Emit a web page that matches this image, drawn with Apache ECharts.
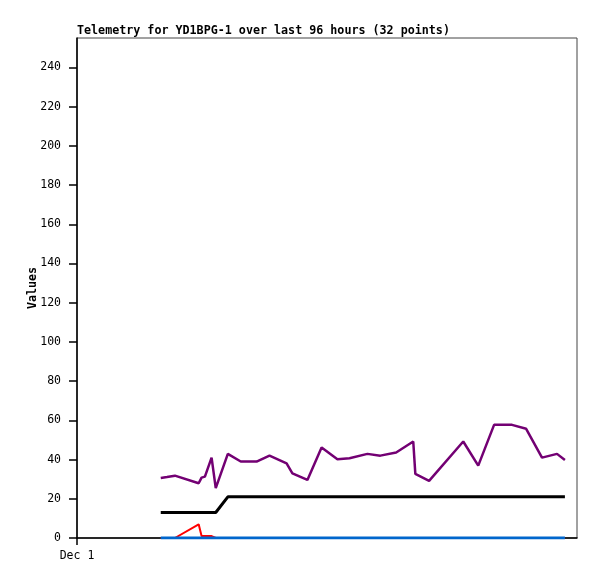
<!DOCTYPE html>
<html>
<head>
<meta charset="utf-8">
<script src="https://cdn.jsdelivr.net/npm/echarts@6/dist/echarts.min.js"></script>
<style>html,body{margin:0;padding:0;background:#fff}#c{width:597px;height:579px}</style>
</head>
<body>
<div id="c"></div>
<script>
// hours since Dec 1 00:00
const hours = [20.1,21.6,23.5,29.2,29.9,30.7,32.3,33.3,36.2,39.3,43.1,46.2,50.3,51.7,55.3,58.7,62.5,65.4,69.7,72.8,76.6,80.7,81.2,84.5,92.7,96.3,100.1,104.4,107.8,111.6,115.2,117.1];
const purpleVals = [30.6,31.1,31.8,27.9,30.8,31.3,41.0,25.4,42.9,39.0,39.0,42.0,38.1,33.0,29.6,46.1,40.2,40.7,42.9,42.0,43.6,49.2,32.7,29.1,49.2,36.9,57.7,57.7,55.7,41.0,42.9,39.8];
const blackVals = [13,13,13,13,13,13,13,13,21,21,21,21,21,21,21,21,21,21,21,21,21,21,21,21,21,21,21,21,21,21,21,21];
const redVals = [0,0,0,7,1,1,1,0,0,0,0,0,0,0,0,0,0,0,0,0,0,0,0,0,0,0,0,0,0,0,0,0];
const blueVals = [0,0,0,0,0,0,0,0,0,0,0,0,0,0,0,0,0,0,0,0,0,0,0,0,0,0,0,0,0,0,0,0];
const yTicks = [0,20,40,60,80,100,120,140,160,180,200,220,240];
const xTickLabels = ['Dec 1'];
const titleText = 'Telemetry for YD1BPG-1 over last 96 hours (32 points)';

const pairs = vals => hours.map((h,i)=>[h, vals[i]]);
const mono = 'DejaVu Sans Mono, Liberation Mono, monospace';
const chart = echarts.init(document.getElementById('c'), null, {renderer:'canvas'});
const lineS = (name, vals, color, w) => ({
  name, type:'line', data: pairs(vals), symbol:'none', animation:false,
  lineStyle:{color, width:w}, itemStyle:{color}
});
chart.setOption({
  animation:false,
  title:{text:titleText, left:77, top:25, padding:0,
    textStyle:{fontFamily:mono, fontSize:11.7, fontWeight:'bold', color:'#000'}},
  grid:{left:77, top:38, right:20, bottom:41, show:true, borderColor:'#444', borderWidth:1, backgroundColor:'transparent'},
  xAxis:{type:'value', min:0, max:120,
    axisLine:{show:true, onZero:false, lineStyle:{color:'#000', width:1.5}},
    axisTick:{show:true, length:7, customValues:[0], lineStyle:{color:'#000', width:1.5}},
    axisLabel:{customValues:[0], formatter:v=> v===0 ? xTickLabels[0] : '', fontFamily:mono, fontSize:11.5, color:'#000', margin:12},
    splitLine:{show:false}},
  yAxis:{type:'value', min:0, max:255, interval:20,
    name:'Values', nameLocation:'middle', nameGap:38, nameRotate:90, nameMoveOverlap:false,
    nameTextStyle:{fontFamily:mono, fontSize:11.7, fontWeight:'bold', color:'#000'},
    axisLine:{show:true, lineStyle:{color:'#000', width:1.5}},
    axisTick:{show:true, inside:false, length:8, customValues:yTicks, lineStyle:{color:'#000', width:1.5}},
    axisLabel:{customValues:yTicks, fontFamily:mono, fontSize:11.5, color:'#000', margin:16},
    splitLine:{show:false}},
  series:[
    lineS('purple', purpleVals, '#730073', 2.5),
    lineS('black', blackVals, '#000000', 3),
    lineS('red', redVals, '#ff0000', 2),
    lineS('blue', blueVals, '#0066cc', 3)
  ]
});
</script>
</body>
</html>
